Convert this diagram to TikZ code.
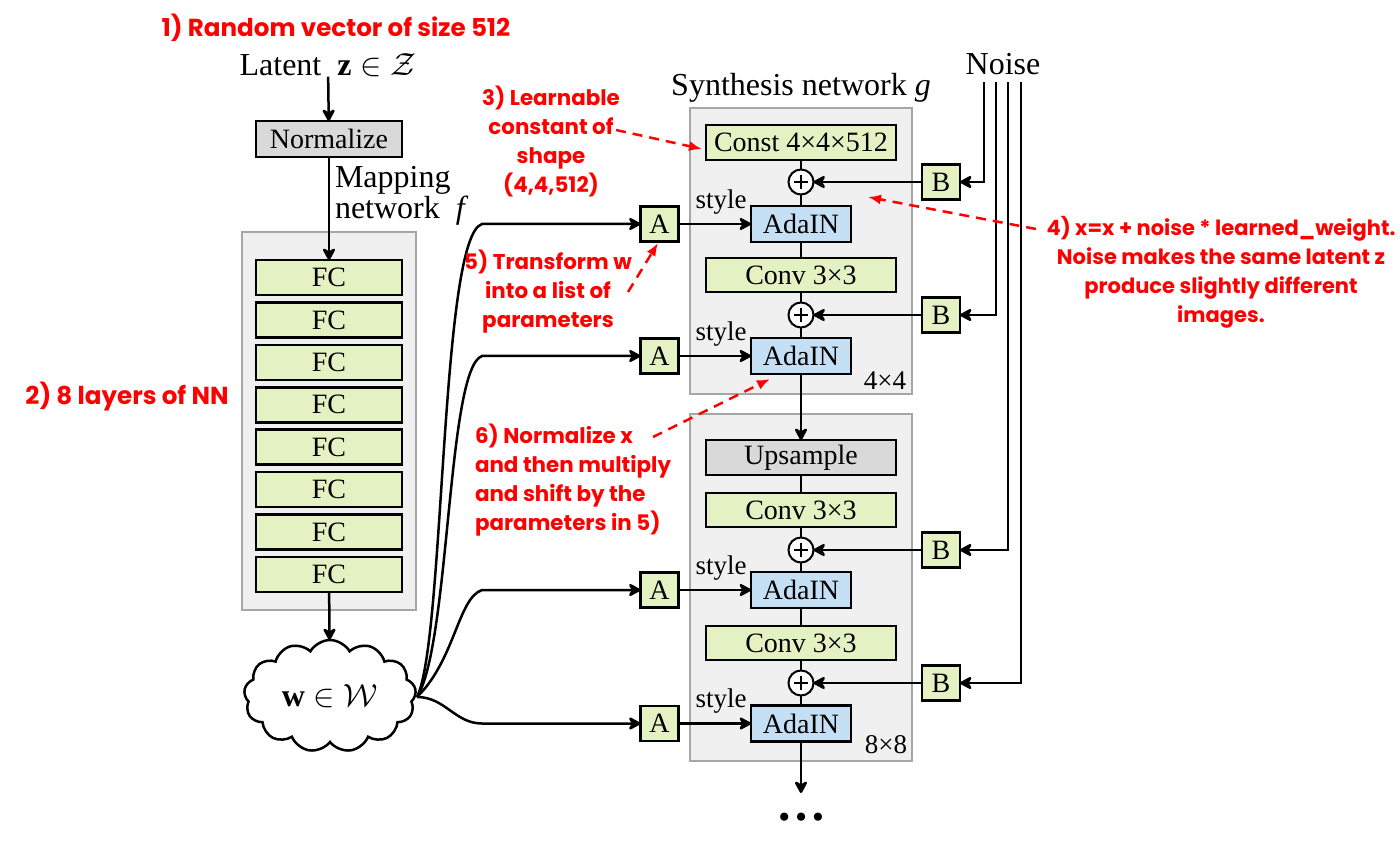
\documentclass[tikz,border=0pt]{standalone}
\usepackage{fix-cm}
\usepackage{fontspec}
\setmainfont{Liberation Serif}
\newfontfamily\redfont{Poppins}
\usetikzlibrary{arrows.meta,shapes.symbols}
\definecolor{boxgreen}{HTML}{E4F1C2}
\definecolor{boxblue}{HTML}{C5E0F4}
\definecolor{boxgray}{HTML}{D9D9D9}
\definecolor{bggray}{HTML}{F0F0F0}
\definecolor{bgline}{HTML}{A6A6A6}
\definecolor{annred}{HTML}{FF0000}
\begin{document}
\begin{tikzpicture}[x=1pt,y=-1pt,
  every node/.style={inner sep=0pt, outer sep=0pt},
  line width=2.5pt,
  >={Stealth[length=15pt,width=16pt,inset=5pt,round]},
  lab/.style={font=\fontsize{32}{36}\selectfont},
  small/.style={font=\fontsize{27}{30}\selectfont},
  blk/.style={draw=black, line width=2.5pt, font=\fontsize{28}{30}\selectfont},
  greenbox/.style={blk, fill=boxgreen, minimum width=190pt, minimum height=34pt},
  fcbox/.style={blk, fill=boxgreen, minimum width=146pt, minimum height=35pt},
  graybox/.style={blk, fill=boxgray, minimum width=190pt, minimum height=35pt},
  adabox/.style={blk, fill=boxblue, minimum width=100pt, minimum height=36pt},
  abbox/.style={blk, fill=boxgreen, minimum width=38pt, minimum height=35pt},
  bgbox/.style={draw=bgline, fill=bggray, line width=2pt},
  plusnode/.style={circle, draw, fill=white, minimum size=25pt, line width=2pt,
    path picture={\draw[line width=1.8pt]
      ([xshift=-7pt]path picture bounding box.center) -- ([xshift=7pt]path picture bounding box.center)
      ([yshift=-7pt]path picture bounding box.center) -- ([yshift=7pt]path picture bounding box.center);}},
  redlab/.style={text=annred, font=\redfont\bfseries\fontsize{21.4}{29}\selectfont, align=center},
  redbig/.style={text=annred, font=\redfont\bfseries\fontsize{24.6}{29}\selectfont, align=center},
  redarrow/.style={draw=annred, line width=2.5pt, dash pattern=on 10pt off 7pt, -{Latex[length=13pt,width=10pt]}}
]
\useasboundingbox (0,0) rectangle (1400,858);
\fill[white] (0,0) rectangle (1400,858);

% background panels
\node[bgbox, minimum width=174pt, minimum height=378pt] (mapbg) at (329,421) {};
\node[bgbox, minimum width=222pt, minimum height=286pt] (syn1) at (801,251) {};
\node[bgbox, minimum width=222pt, minimum height=347pt] (syn2) at (801,587.5) {};

% mapping network
\node[lab] (lat) at (328,65) {Latent \ $\mathbf{z}\in\mathcal{Z}$};
\node[graybox, minimum width=146pt, minimum height=36pt] (norm) at (329,139) {Normalize};
\node[lab, anchor=west] (mapl1) at (335,180) {Mapping};
\node[lab, anchor=west] (mapl2) at (335,211) {network \ \textit{f}};
\foreach \i in {1,...,8}{
  \node[fcbox] (fc\i) at (329,{277.5+(\i-1)*42.43}) {FC};
}
\node[cloud, draw, cloud puffs=13, cloud puff arc=120, aspect=1.5,
      minimum width=172pt, minimum height=112pt, line width=2.5pt,
      font=\fontsize{32}{36}\selectfont] (cloud) at (330,696) {$\mathbf{w}\in\mathcal{W}$};
\draw[->] (lat) -- (norm);
\draw[->] (norm) -- (fc1);
\draw[->] (fc8) -- (cloud);

% synthesis network
\node[lab] (synl) at (801,88) {Synthesis network \textit{g}};
\node[lab] (noisel) at (1003,64) {Noise};

\node[greenbox, minimum height=35pt] (const) at (801,142.5) {Const 4×4×512};
\node[plusnode] (p1) at (801,182) {};
\node[adabox] (ada1) at (801,224) {AdaIN};
\node[greenbox] (conv1) at (801,275) {Conv 3×3};
\node[plusnode] (p2) at (801,315) {};
\node[adabox] (ada2) at (801,356) {AdaIN};
\node[small, anchor=east] (lab44) at (906,381) {4×4};

\node[graybox] (ups) at (801,457.5) {Upsample};
\node[greenbox] (conv2) at (801,510) {Conv 3×3};
\node[plusnode] (p3) at (801,550) {};
\node[adabox] (ada3) at (801,590) {AdaIN};
\node[greenbox] (conv3) at (801,643) {Conv 3×3};
\node[plusnode] (p4) at (801,683) {};
\node[adabox] (ada4) at (801,723.5) {AdaIN};
\node[small, anchor=east] (lab88) at (907,745) {8×8};
\coordinate (outc) at (801,793);
\node[font=\bfseries\fontsize{50}{50}\selectfont] (dots) at (801,817) {…};

\draw (const) -- (p1) -- (ada1) -- (conv1) -- (p2) -- (ada2);
\draw[->] (ada2) -- (ups);
\draw (ups) -- (conv2) -- (p3) -- (ada3) -- (conv3) -- (p4) -- (ada4);
\draw[->] (ada4) -- (outc);

% A boxes
\node[abbox] (A1) at (659.5,224) {A};
\node[abbox] (A2) at (659.5,356) {A};
\node[abbox] (A3) at (659.5,590) {A};
\node[abbox] (A4) at (659.5,723.5) {A};
\foreach \i in {1,...,4}{ \draw[->] (A\i) -- (ada\i); }
\node[small] (st1) at (721,202) {style};
\node[small] (st2) at (721,334) {style};
\node[small] (st3) at (721,568) {style};
\node[small] (st4) at (721,701) {style};

% B boxes and noise
\node[abbox] (B1) at (941,182) {B};
\node[abbox] (B2) at (941,315) {B};
\node[abbox] (B3) at (941,550) {B};
\node[abbox] (B4) at (941,683) {B};
\foreach \i in {1,...,4}{ \draw[->] (B\i) -- (p\i); }
\coordinate (n1) at (984,82);
\coordinate (n2) at (996,82);
\coordinate (n3) at (1008,82);
\coordinate (n4) at (1021,82);
\foreach \i in {1,...,4}{ \draw[->] (n\i) |- (B\i); }

% connectors from w
\coordinate (wj) at (417,697);
\coordinate (c1) at (482,224);
\coordinate (c2) at (482,356);
\coordinate (c3) at (482,590);
\coordinate (c4) at (482,723.5);
\draw[->] (wj) .. controls (445,640) and (440,237) .. (c1) -- (A1);
\draw[->] (wj) .. controls (450,645) and (447,368) .. (c2) -- (A2);
\draw[->] (wj) .. controls (455,660) and (458,598) .. (c3) -- (A3);
\draw[->] (wj) .. controls (445,697) and (455,723.5) .. (c4) -- (A4);

% red annotations
\node[redbig] (t1) at (336,28) {1) Random vector of size 512};
\node[redbig] (t2) at (127,397) {2) 8 layers of NN};
\node[redlab] (t3) at (551,141) {3) Learnable\\constant of\\shape\\(4,4,512)};
\node[redlab, font=\redfont\bfseries\fontsize{21}{29}\selectfont] (t4) at (1221,272) {4) x=x + noise * learned\_weight.\\Noise makes the same latent z\\produce slightly different\\images.};
\node[redlab] (t5) at (548,292) {5) Transform w\\into a list of\\parameters};
\node[redlab, align=left, anchor=west] (t6) at (475,480) {6) Normalize x\\and then multiply\\and shift by the\\parameters in 5)};

\coordinate (a3s) at (616,130); \coordinate (a3e) at (702,149);
\coordinate (a4s) at (1036,229); \coordinate (a4e) at (868,197);
\coordinate (a5s) at (628,292); \coordinate (a5e) at (658,243);
\coordinate (a6s) at (653,437); \coordinate (a6e) at (770,379);
\draw[redarrow] (a3s) -- (a3e);
\draw[redarrow] (a4s) -- (a4e);
\draw[redarrow] (a5s) -- (a5e);
\draw[redarrow] (a6s) -- (a6e);
\end{tikzpicture}
\end{document}
